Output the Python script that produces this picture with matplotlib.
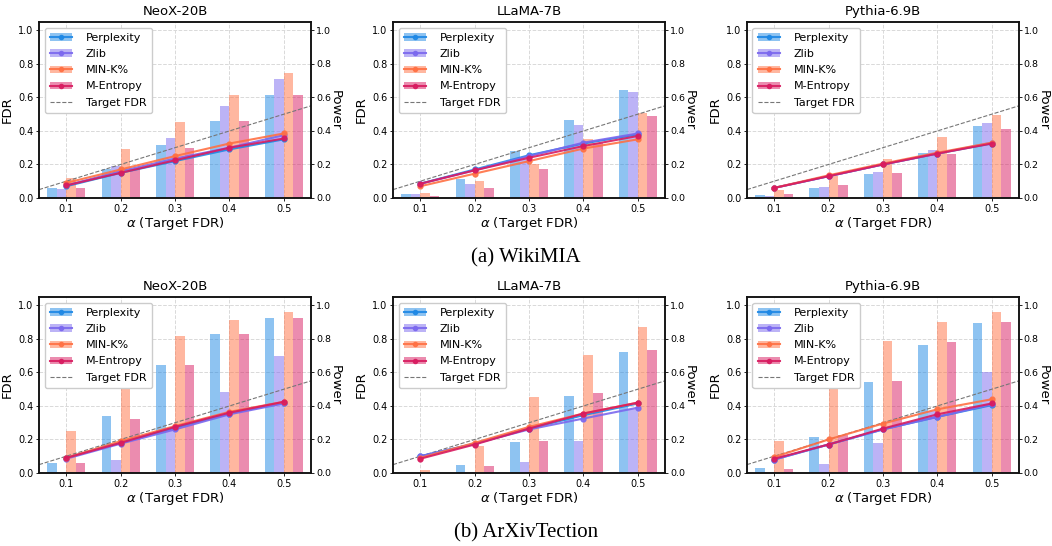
import numpy as np
import matplotlib
matplotlib.use("Agg")
import matplotlib.pyplot as plt
from matplotlib.patches import Patch
from matplotlib.lines import Line2D

alphas = [0.1, 0.2, 0.3, 0.4, 0.5]
methods = ["Perplexity", "Zlib", "MIN-K%", "M-Entropy"]
models = ["NeoX-20B", "LLaMA-7B", "Pythia-6.9B"]
captions = ["(a) WikiMIA", "(b) ArXivTection"]

# FDR (bars, left axis) and Power (lines, right axis); rows = methods
wiki_neox_fdr = [
    [0.06, 0.17, 0.315, 0.46, 0.615],
    [0.055, 0.19, 0.36, 0.55, 0.71],
    [0.12, 0.29, 0.455, 0.615, 0.745],
    [0.06, 0.17, 0.30, 0.46, 0.615],
]
wiki_neox_power = [
    [0.07, 0.15, 0.22, 0.29, 0.35],
    [0.075, 0.16, 0.235, 0.30, 0.375],
    [0.09, 0.17, 0.25, 0.325, 0.385],
    [0.075, 0.15, 0.225, 0.30, 0.355],
]
wiki_llama_fdr = [
    [0.025, 0.115, 0.28, 0.465, 0.645],
    [0.025, 0.085, 0.23, 0.435, 0.63],
    [0.03, 0.10, 0.20, 0.35, 0.51],
    [0.012, 0.06, 0.17, 0.33, 0.49],
]
wiki_llama_power = [
    [0.085, 0.17, 0.255, 0.325, 0.38],
    [0.085, 0.165, 0.25, 0.33, 0.385],
    [0.07, 0.145, 0.22, 0.295, 0.35],
    [0.085, 0.165, 0.24, 0.31, 0.37],
]
wiki_pythia_fdr = [
    [0.018, 0.06, 0.145, 0.27, 0.43],
    [0.012, 0.065, 0.155, 0.285, 0.45],
    [0.045, 0.13, 0.235, 0.365, 0.495],
    [0.025, 0.08, 0.15, 0.265, 0.41],
]
wiki_pythia_power = [
    [0.06, 0.13, 0.20, 0.265, 0.325],
    [0.06, 0.13, 0.20, 0.265, 0.33],
    [0.06, 0.135, 0.205, 0.27, 0.33],
    [0.06, 0.13, 0.20, 0.265, 0.325],
]
arxiv_neox_fdr = [
    [0.06, 0.34, 0.645, 0.83, 0.925],
    [0.008, 0.08, 0.26, 0.485, 0.70],
    [0.25, 0.63, 0.82, 0.915, 0.96],
    [0.06, 0.325, 0.645, 0.83, 0.925],
]
arxiv_neox_power = [
    [0.09, 0.18, 0.27, 0.355, 0.42],
    [0.085, 0.175, 0.26, 0.35, 0.415],
    [0.09, 0.19, 0.28, 0.365, 0.425],
    [0.09, 0.18, 0.275, 0.36, 0.425],
]
arxiv_llama_fdr = [
    [0.0, 0.045, 0.185, 0.46, 0.72],
    [0.0, 0.005, 0.065, 0.19, 0.38],
    [0.015, 0.16, 0.455, 0.705, 0.87],
    [0.0, 0.04, 0.19, 0.48, 0.735],
]
arxiv_llama_power = [
    [0.10, 0.175, 0.265, 0.345, 0.415],
    [0.10, 0.175, 0.26, 0.325, 0.39],
    [0.09, 0.18, 0.275, 0.355, 0.42],
    [0.085, 0.17, 0.265, 0.355, 0.42],
]
arxiv_pythia_fdr = [
    [0.028, 0.215, 0.54, 0.765, 0.895],
    [0.008, 0.055, 0.18, 0.37, 0.60],
    [0.19, 0.575, 0.79, 0.90, 0.96],
    [0.025, 0.225, 0.55, 0.78, 0.90],
]
arxiv_pythia_power = [
    [0.08, 0.17, 0.26, 0.335, 0.405],
    [0.08, 0.17, 0.26, 0.335, 0.41],
    [0.095, 0.20, 0.295, 0.38, 0.44],
    [0.085, 0.17, 0.265, 0.35, 0.415],
]

panels = [
    [(wiki_neox_fdr, wiki_neox_power), (wiki_llama_fdr, wiki_llama_power),
     (wiki_pythia_fdr, wiki_pythia_power)],
    [(arxiv_neox_fdr, arxiv_neox_power), (arxiv_llama_fdr, arxiv_llama_power),
     (arxiv_pythia_fdr, arxiv_pythia_power)],
]

colors = ["#1e88e5", "#7b68ee", "#ff7043", "#d81b60"]
bar_w = 0.0175
ticklabels = ["0.0", "0.2", "0.4", "0.6", "0.8", "1.0"]

fig = plt.figure(figsize=(10.52, 5.46), dpi=100)

lefts = [0.0371, 0.3736, 0.7100]
bottoms = [0.6374, 0.1337]
aw, ah = 0.2586, 0.3223

for r in range(2):
    for c in range(3):
        fdr, power = panels[r][c]
        ax = fig.add_axes([lefts[c], bottoms[r], aw, ah])
        ax2 = ax.twinx()
        x = np.array(alphas)

        ax.grid(True, color="#d9d9d9", linestyle="--", linewidth=0.7)
        ax.set_axisbelow(True)
        for i in range(4):
            ax.bar(x + (i - 1.5) * bar_w, fdr[i], width=bar_w,
                   color=colors[i], alpha=0.5, linewidth=0)
        tx = np.array([0.05, 0.55])
        ax.plot(tx, tx, linestyle="--", color="#777777", linewidth=0.8)

        for i in range(4):
            ax2.plot(x, power[i], marker="o", markersize=3.5, linewidth=1.5,
                     color=colors[i], alpha=0.9)

        for a in (ax, ax2):
            a.set_xlim(0.05, 0.55)
            a.set_ylim(0, 1.05)
            a.set_yticks([0, 0.2, 0.4, 0.6, 0.8, 1.0])
            a.tick_params(labelsize=7, length=2, width=0.6, pad=2)
            for s in a.spines.values():
                s.set_linewidth(1.1)
                s.set_color("#111111")
        ax2.tick_params(axis="y", labelsize=6.8, pad=1.5)
        ax.set_xticks(alphas)
        ax.set_yticklabels(ticklabels)
        ax2.set_yticklabels(ticklabels)

        ax.set_title(models[c], fontsize=9.5, pad=5)
        ax.set_xlabel(r"$\alpha$ (Target FDR)", fontsize=9.5, labelpad=1)
        ax.set_ylabel("FDR", fontsize=9.5, labelpad=3)
        ax2.set_ylabel("Power", fontsize=9.5, rotation=270, va="center", ha="center")
        ax2.yaxis.set_label_coords(1.09, 0.5)

        handles = [
            (Patch(facecolor=colors[i], alpha=0.5, linewidth=0),
             Line2D([0], [0], color=colors[i], marker="o", markersize=3,
                    linewidth=1.5, alpha=0.9))
            for i in range(4)
        ]
        handles.append(Line2D([0], [0], linestyle="--", color="#777777", linewidth=0.8))
        ax2.legend(handles, methods + ["Target FDR"], loc="upper left",
                   fontsize=8, frameon=True, edgecolor="#cccccc",
                   framealpha=1.0, borderpad=0.5, labelspacing=0.55,
                   handlelength=2.0, handletextpad=1.2)

for r, y in enumerate([0.527, 0.024]):
    fig.text(0.5, y, captions[r], ha="center", va="center",
             fontsize=15, family="Liberation Serif")

fig.savefig("out.png", dpi=100)
